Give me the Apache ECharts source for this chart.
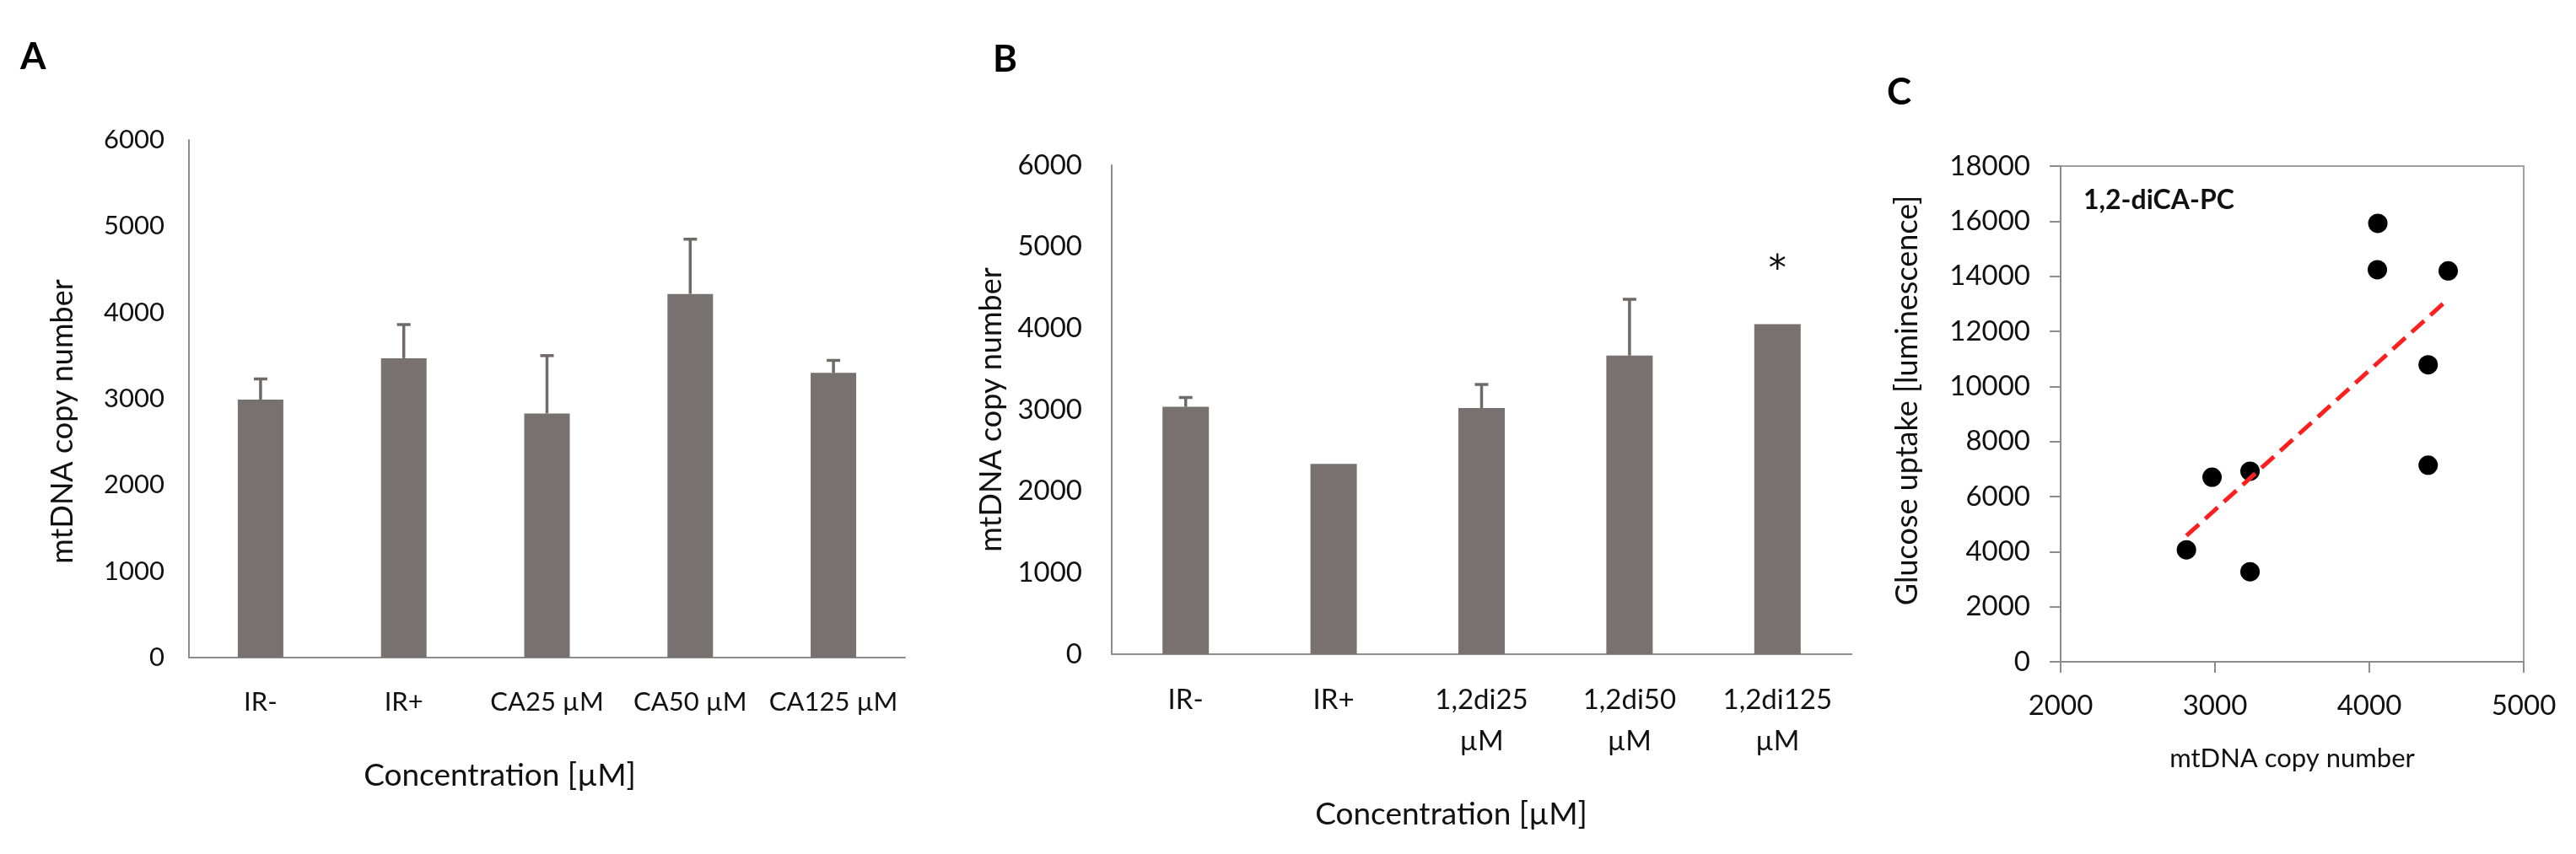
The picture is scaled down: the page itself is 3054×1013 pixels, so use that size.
<!DOCTYPE html>
<html>
<head>
<meta charset="utf-8">
<script src="https://cdn.jsdelivr.net/npm/echarts@6/dist/echarts.min.js"></script>
<style>
html,body{margin:0;padding:0;background:#fff;}
#c{width:3054px;height:1013px;}
</style>
</head>
<body>
<div id="c"></div>
<script>
// ---- Data ----
const catsA = ['IR-', 'IR+', 'CA25 µM', 'CA50 µM', 'CA125 µM'];
const meanA = [2990, 3470, 2830, 4215, 3300];
const errA  = [240, 390, 670, 635, 145];

const catsB = ['IR-', 'IR+', '1,2di25\nµM', '1,2di50\nµM', '1,2di125\nµM'];
const meanB = [3035, 2335, 3020, 3665, 4050];
const errB  = [115, null, 290, 690, null];
const sigB  = ['', '', '', '', '*'];

const mtdnaC   = [2815, 2981, 3227, 3227, 4055, 4052, 4511, 4381, 4381];
const glucoseC = [4064, 6701, 6919, 3271, 15920, 14235, 14195, 10785, 7137];

const panelLetters = ['A', 'B', 'C'];
const annotationC = '1,2-diCA-PC';

// ---- Linear regression trend line (computed from the scatter data) ----
const n = mtdnaC.length;
const mx = mtdnaC.reduce((s, v) => s + v, 0) / n;
const my = glucoseC.reduce((s, v) => s + v, 0) / n;
let sxy = 0, sxx = 0;
for (let i = 0; i < n; i++) { sxy += (mtdnaC[i] - mx) * (glucoseC[i] - my); sxx += (mtdnaC[i] - mx) ** 2; }
const slope = sxy / sxx, intercept = my - slope * mx;
const xMin = Math.min(...mtdnaC), xMax = Math.max(...mtdnaC);
const trend = [[xMin, intercept + slope * xMin], [xMax, intercept + slope * xMax]];

// ---- Styles ----
const FONT = 'Lato';
const TXT = '#111';
const BAR = '#777171';
const ERR = '#6f6969';
const AXIS = '#8c8c8c';
const plain = v => String(v);

function errSeries(idx, means, errs) {
  const data = [];
  means.forEach((m, i) => { if (errs[i] != null) data.push([i, m, m + errs[i]]); });
  return {
    type: 'custom', xAxisIndex: idx, yAxisIndex: idx, z: 4, silent: true,
    encode: { x: 0, y: [1, 2] },
    data: data,
    renderItem: function (params, api) {
      const i = api.value(0);
      const lo = api.coord([i, api.value(1)]);
      const hi = api.coord([i, api.value(2)]);
      const cap = 8;
      return {
        type: 'group',
        children: [
          { type: 'line', shape: { x1: lo[0], y1: lo[1], x2: hi[0], y2: hi[1] }, style: { stroke: ERR, lineWidth: 3.5 } },
          { type: 'line', shape: { x1: hi[0] - cap, y1: hi[1], x2: hi[0] + cap, y2: hi[1] }, style: { stroke: ERR, lineWidth: 3.5 } }
        ]
      };
    }
  };
}

const chart = echarts.init(document.getElementById('c'), null, { renderer: 'canvas' });

const option = {
  animation: false,
  backgroundColor: '#fff',
  textStyle: { fontFamily: FONT, color: TXT },
  grid: [
    { left: 224, top: 166, width: 849, height: 614 },
    { left: 1318, top: 196, width: 877, height: 580 },
    { left: 2443, top: 197, width: 549, height: 588, show: true, borderColor: '#a0a0a0', borderWidth: 2 }
  ],
  xAxis: [
    {
      gridIndex: 0, type: 'category', data: catsA,
      axisLine: { lineStyle: { color: AXIS, width: 2 } }, axisTick: { show: false },
      axisLabel: { fontFamily: FONT, fontSize: 31, lineHeight: 31, color: TXT, margin: 37, interval: 0 },
      name: 'Concentration [µM]', nameLocation: 'middle', nameGap: 122,
      nameTextStyle: { fontFamily: FONT, fontSize: 37, lineHeight: 37, color: TXT, padding: [0, 112, 0, 0] }
    },
    {
      gridIndex: 1, type: 'category', data: catsB,
      axisLine: { lineStyle: { color: AXIS, width: 2 } }, axisTick: { show: false },
      axisLabel: { fontFamily: FONT, fontSize: 33, lineHeight: 49, color: TXT, margin: 30, interval: 0 },
      name: 'Concentration [µM]', nameLocation: 'middle', nameGap: 172,
      nameTextStyle: { fontFamily: FONT, fontSize: 37, lineHeight: 37, color: TXT, padding: [0, 72, 0, 0] }
    },
    {
      gridIndex: 2, type: 'value', min: 2000, max: 5000, interval: 1000,
      axisLine: { show: true, lineStyle: { color: AXIS, width: 2 } },
      axisTick: { show: true, length: 13, lineStyle: { color: AXIS, width: 2 } },
      splitLine: { show: false },
      axisLabel: { fontFamily: FONT, fontSize: 33, lineHeight: 33, color: TXT, margin: 36, formatter: plain },
      name: 'mtDNA copy number', nameLocation: 'middle', nameGap: 99,
      nameTextStyle: { fontFamily: FONT, fontSize: 31, lineHeight: 31, color: TXT }
    }
  ],
  yAxis: [
    {
      gridIndex: 0, type: 'value', min: 0, max: 6000, interval: 1000,
      axisLine: { show: true, lineStyle: { color: AXIS, width: 2 } }, axisTick: { show: false },
      splitLine: { show: false },
      axisLabel: { fontFamily: FONT, fontSize: 31, color: TXT, margin: 29, formatter: plain },
      name: 'mtDNA copy number', nameLocation: 'middle', nameGap: 132,
      nameTextStyle: { fontFamily: FONT, fontSize: 36, lineHeight: 36, color: TXT, padding: [0, 54, 0, 0] }
    },
    {
      gridIndex: 1, type: 'value', min: 0, max: 6000, interval: 1000,
      axisLine: { show: true, lineStyle: { color: AXIS, width: 2 } }, axisTick: { show: false },
      splitLine: { show: false },
      axisLabel: { fontFamily: FONT, fontSize: 33, color: TXT, margin: 35, formatter: plain },
      name: 'mtDNA copy number', nameLocation: 'middle', nameGap: 125,
      nameTextStyle: { fontFamily: FONT, fontSize: 36, lineHeight: 36, color: TXT }
    },
    {
      gridIndex: 2, type: 'value', min: 0, max: 18000, interval: 2000,
      axisLine: { show: true, lineStyle: { color: AXIS, width: 2 } },
      axisTick: { show: true, length: 13, lineStyle: { color: AXIS, width: 2 } },
      splitLine: { show: false },
      axisLabel: { fontFamily: FONT, fontSize: 33, color: TXT, margin: 36, formatter: plain },
      name: 'Glucose uptake [luminescence]', nameLocation: 'middle', nameGap: 164,
      nameTextStyle: { fontFamily: FONT, fontSize: 36, lineHeight: 36, color: TXT, padding: [0, 0, 0, 32] }
    }
  ],
  series: [
    {
      type: 'bar', xAxisIndex: 0, yAxisIndex: 0, data: meanA, barWidth: 54,
      itemStyle: { color: BAR }, silent: true
    },
    errSeries(0, meanA, errA),
    {
      type: 'bar', xAxisIndex: 1, yAxisIndex: 1, data: meanB, barWidth: 55,
      itemStyle: { color: BAR }, silent: true,
      label: {
        show: true, position: 'top', distance: 42,
        formatter: p => sigB[p.dataIndex],
        fontFamily: 'DejaVu Sans', fontSize: 42, lineHeight: 42, color: TXT
      }
    },
    errSeries(1, meanB, errB),
    {
      type: 'scatter', xAxisIndex: 2, yAxisIndex: 2, symbolSize: 23, silent: true,
      data: mtdnaC.map((x, i) => [x, glucoseC[i]]),
      itemStyle: { color: '#000', opacity: 1 }
    },
    {
      type: 'line', xAxisIndex: 2, yAxisIndex: 2, data: trend, showSymbol: false, silent: true, z: 5,
      lineStyle: { color: '#ff1f1f', width: 5, type: [20, 10] }
    }
  ],
  graphic: [
    { type: 'text', left: 24, top: 46, style: { text: panelLetters[0], font: 'bold 44px ' + FONT, fill: '#000' } },
    { type: 'text', left: 1177, top: 49, style: { text: panelLetters[1], font: 'bold 44px ' + FONT, fill: '#000' } },
    { type: 'text', left: 2237, top: 88, style: { text: panelLetters[2], font: 'bold 44px ' + FONT, fill: '#000' } },
    { type: 'text', left: 2470, top: 222, style: { text: annotationC, font: 'bold 32px ' + FONT, fill: '#111' } }
  ]
};

chart.setOption(option);
</script>
</body>
</html>
